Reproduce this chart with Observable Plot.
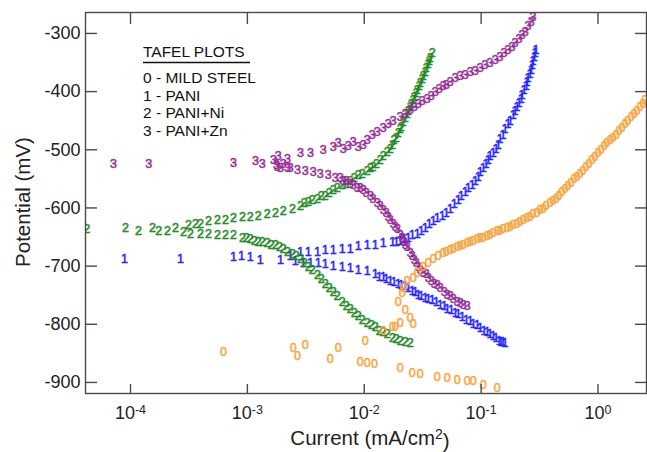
<!DOCTYPE html>
<html><head><meta charset="utf-8">
<script src="https://cdn.jsdelivr.net/npm/d3@7"></script>
<script src="https://cdn.jsdelivr.net/npm/@observablehq/plot@0.6"></script>
<style>html,body{margin:0;padding:0;background:#fff;}</style>
</head><body><div id="chart"></div>
<script>
// Tafel plots: [current (mA/cm2), potential (mV)]
const mildSteel = [
 [6.23e-4,-848],[2.47e-3,-840],[2.68e-3,-855],[3.13e-3,-835],[5.12e-3,-859],[5.99e-3,-840],[9.24e-3,-864],
 [1.02e-2,-828],[1.06e-2,-867],[1.22e-2,-869],[1.45e-2,-811],[1.74e-2,-804],[2.03e-2,-876],[2.03e-2,-797],
 [2.47e-2,-790],[2.62e-2,-799],[2.57e-2,-883],[3.01e-2,-885],[4.21e-2,-890],[5.12e-2,-893],[6.23e-2,-895],
 [7.59e-2,-897],[8.54e-2,-898],[0.104,-905],[0.137,-909],
 [2.24e-2,-776],[1.95e-2,-762],[2.11e-2,-747],[2.15e-2,-737],[2.33e-2,-725],[1.84e-2,-805],
 [2.62e-2,-720],[2.84e-2,-711],[3.19e-2,-702],[3.52e-2,-694],[3.89e-2,-687],[4.29e-2,-682],[4.73e-2,-678],
 [5.43e-2,-673],[6.23e-2,-668],[7.02e-2,-663],[8.05e-2,-659],[9.24e-2,-654],[0.104,-651],[0.119,-646],
 [0.137,-640],[0.154,-637],[0.177,-632],[0.203,-627],[0.229,-621],[0.262,-615],[0.301,-608],[0.339,-601],
 [0.389,-592],[0.438,-584],[0.492,-573],[0.554,-563],[0.623,-551],[0.702,-541],[0.790,-530],[0.889,-518],
 [1.00,-506],[1.13,-494],[1.27,-484],[1.43,-474],[1.60,-462],[1.80,-450],[2.03,-439],[2.29,-427],[2.52,-415],
 [5.02e-2,-676],[5.76e-2,-670],[6.61e-2,-665],[7.59e-2,-661],[8.54e-2,-657],[9.81e-2,-652],[0.113,-648],
 [0.127,-643],[0.145,-639],[0.167,-634],[0.188,-629],[0.215,-624],[0.247,-618],[0.278,-611],[0.319,-604],
 [0.359,-597],[0.412,-588],[0.464,-579],[0.522,-568],[0.588,-557],[0.661,-546],[0.744,-536],[0.838,-524],
 [0.943,-512],[1.06,-500],[1.19,-489],[1.34,-479],[1.51,-468],[1.70,-456],[1.92,-444],[2.15,-433],[2.43,-421]
];
const pani = [
 [8.89e-5,-687],[2.68e-4,-687],[7.59e-4,-685],[8.89e-4,-683],[1.06e-3,-685],[1.29e-3,-690],[1.92e-3,-690],[2.33e-3,-682],
 [2.84e-3,-676],[3.32e-3,-676],[3.97e-3,-675],[4.64e-3,-673],[5.43e-3,-673],[6.48e-3,-671],[7.59e-3,-670],[8.89e-3,-666],
 [1.06e-2,-664],[1.24e-2,-663],[1.45e-2,-661],[1.74e-2,-659],[2.03e-2,-656],[2.38e-2,-651],[2.84e-2,-644],[3.32e-2,-634],
 [3.89e-2,-623],[4.64e-2,-613],[5.43e-2,-601],[6.36e-2,-587],[7.30e-2,-573],[8.38e-2,-560],[9.43e-2,-546],[0.104,-532],
 [0.115,-518],[0.127,-505],[0.140,-491],[0.154,-474],[0.170,-456],[0.188,-441],[0.203,-427],[0.220,-412],[0.233,-398],
 [0.247,-384],[0.262,-369],[0.273,-355],[0.284,-341],[0.295,-329],
 [1.88e-2,-658],[2.20e-2,-654],[2.57e-2,-647],[3.07e-2,-639],[3.59e-2,-628],[4.21e-2,-618],[5.02e-2,-608],[5.88e-2,-594],
 [6.75e-2,-580],[7.74e-2,-566],[8.89e-2,-553],[9.81e-2,-539],[0.110,-525],[0.119,-511],[0.134,-498],[0.145,-482],
 [0.160,-465],[0.177,-450],[0.195,-434],[0.211,-420],[0.224,-405],[0.243,-391],[0.252,-377],[0.268,-362],[0.278,-348],[0.289,-334],
 [2.57e-3,-692],[3.01e-3,-694],[3.46e-3,-694],[4.04e-3,-695],[4.64e-3,-697],[5.43e-3,-699],[6.48e-3,-702],[7.59e-3,-704],
 [8.89e-3,-706],[1.06e-2,-709],[1.24e-2,-714],[1.45e-2,-719],[1.67e-2,-725],[1.95e-2,-730],[2.24e-2,-735],[2.57e-2,-742],
 [2.89e-2,-749],[3.32e-2,-754],[3.81e-2,-759],[4.46e-2,-766],[5.12e-2,-773],[5.99e-2,-780],[6.88e-2,-787],[8.05e-2,-795],
 [9.24e-2,-802],[0.106,-811],[0.119,-817],[0.134,-824],[0.148,-830],[0.160,-833],
 [1.34e-2,-718],[1.54e-2,-723],[1.80e-2,-728],[2.07e-2,-733],[2.38e-2,-738],[2.73e-2,-745],[3.07e-2,-752],[3.52e-2,-757],
 [4.12e-2,-762],[4.83e-2,-769],[5.54e-2,-776],[6.36e-2,-783],[7.44e-2,-792],[8.54e-2,-799],[9.81e-2,-807],[0.113,-814],
 [0.127,-821],[0.143,-828],[0.154,-831]
];
const paniNi = [
 [4.21e-5,-637],[9.06e-5,-635],[1.17e-4,-639],[1.54e-4,-635],[1.74e-4,-640],[2.07e-4,-639],[2.43e-4,-634],[2.84e-4,-642],[3.13e-4,-630],
 [3.59e-4,-628],[3.97e-4,-627],[4.64e-4,-623],[5.54e-4,-621],[6.48e-4,-620],[7.59e-4,-618],[9.06e-4,-616],[1.06e-3,-615],
 [1.24e-3,-613],[1.48e-3,-611],[1.74e-3,-608],[2.03e-3,-606],[2.43e-3,-601],[2.84e-3,-596],[3.32e-3,-589],[3.97e-3,-584],
 [4.64e-3,-579],[5.43e-3,-570],[6.48e-3,-561],[7.59e-3,-553],[8.89e-3,-544],[1.06e-2,-536],[1.19e-2,-529],[1.37e-2,-518],
 [1.57e-2,-503],[1.74e-2,-491],[1.88e-2,-479],[2.03e-2,-465],[2.15e-2,-453],[2.33e-2,-439],[2.47e-2,-427],[2.62e-2,-415],
 [2.78e-2,-403],[2.95e-2,-391],[3.13e-2,-379],[3.32e-2,-367],[3.52e-2,-353],[3.66e-2,-343],[3.81e-2,-334],
 [3.07e-3,-592],[3.59e-3,-587],[4.29e-3,-580],[5.02e-3,-575],[5.88e-3,-566],[7.02e-3,-558],[8.21e-3,-549],[9.61e-3,-541],
 [1.13e-2,-532],[1.27e-2,-524],[1.45e-2,-511],[1.67e-2,-498],[1.80e-2,-484],[1.95e-2,-472],[2.07e-2,-460],[2.24e-2,-446],
 [2.38e-2,-434],[2.52e-2,-422],[2.68e-2,-410],[2.84e-2,-398],[3.01e-2,-386],[3.19e-2,-374],[3.39e-2,-360],[3.59e-2,-348],
 [3.26e-4,-644],[3.97e-4,-644],[4.64e-4,-644],[5.54e-4,-646],[6.48e-4,-647],[7.59e-4,-647],[9.06e-4,-651],[1.06e-3,-654],
 [1.24e-3,-658],[1.48e-3,-661],[1.74e-3,-664],[2.03e-3,-671],[2.43e-3,-680],[2.84e-3,-688],[3.32e-3,-701],[3.97e-3,-716],
 [4.64e-3,-731],[5.43e-3,-745],[6.48e-3,-761],[7.59e-3,-774],[8.89e-3,-786],[1.06e-2,-797],[1.24e-2,-805],[1.45e-2,-814],
 [1.74e-2,-823],[2.03e-2,-828],[2.24e-2,-831],[2.47e-2,-833],
 [9.81e-4,-652],[1.15e-3,-656],[1.34e-3,-659],[1.60e-3,-663],[1.88e-3,-668],[2.20e-3,-675],[2.62e-3,-683],[3.07e-3,-694],
 [3.59e-3,-707],[4.29e-3,-723],[5.02e-3,-738],[5.88e-3,-752],[7.02e-3,-768],[8.21e-3,-780],[9.61e-3,-792],[1.15e-2,-802],
 [1.34e-2,-811],[1.57e-2,-817],[1.88e-2,-826]
];
const paniZn = [
 [7.15e-5,-524],[1.43e-4,-524],[7.59e-4,-522],[1.17e-3,-520],[1.34e-3,-524],[1.67e-3,-518],[1.84e-3,-510],[2.03e-3,-524],
 [2.20e-3,-515],[2.33e-3,-532],[1.92e-3,-532],[1.77e-3,-527],
 [2.84e-3,-506],[3.46e-3,-505],[4.46e-3,-501],[5.43e-3,-496],[5.99e-3,-489],[6.61e-3,-498],[7.30e-3,-493],[8.05e-3,-487],
 [8.89e-3,-496],[9.81e-3,-491],[1.17e-2,-475],[1.45e-2,-462],[1.60e-2,-455],[1.77e-2,-450],[2.03e-2,-443],[2.47e-2,-432],
 [2.89e-2,-422],[3.46e-2,-412],[4.04e-2,-401],[4.73e-2,-391],[5.43e-2,-383],[6.61e-2,-374],[8.05e-2,-367],[9.81e-2,-360],
 [0.119,-350],[0.145,-340],[0.170,-329],[0.195,-317],[0.224,-303],[0.252,-288],[0.278,-272],
 [1.06e-2,-484],[1.29e-2,-469],[2.24e-2,-438],[2.68e-2,-427],[3.13e-2,-417],[3.74e-2,-407],[4.38e-2,-396],[5.02e-2,-388],
 [5.99e-2,-377],[7.30e-2,-371],[8.89e-2,-364],[0.108,-355],[0.132,-345],[0.157,-334],[0.184,-324],[0.211,-310],[0.238,-297],[0.268,-281],
 [1.80e-3,-530],[2.20e-3,-532],[2.68e-3,-534],[3.13e-3,-536],[3.66e-3,-539],[4.21e-3,-541],[4.92e-3,-544],[5.65e-3,-548],
 [6.61e-3,-553],[7.59e-3,-558],[8.71e-3,-565],[9.81e-3,-570],[1.13e-2,-580],[1.29e-2,-592],[1.45e-2,-604],[1.60e-2,-615],
 [1.77e-2,-627],[1.92e-2,-637],[2.03e-2,-646],[2.20e-2,-658],[2.33e-2,-668],[2.47e-2,-678],[2.68e-2,-690],[2.89e-2,-701],
 [3.19e-2,-711],[3.52e-2,-720],[3.97e-2,-730],[4.46e-2,-738],[5.12e-2,-749],[5.76e-2,-757],[6.61e-2,-764],[7.59e-2,-769],
 [6.23e-3,-549],[7.02e-3,-554],[8.05e-3,-561],[9.24e-3,-566],[1.04e-2,-575],[1.19e-2,-585],[1.37e-2,-597],[1.54e-2,-609],
 [1.67e-2,-620],[1.84e-2,-632],[2.11e-2,-651],[2.24e-2,-663],[2.57e-2,-683],[2.78e-2,-695],[3.01e-2,-706],[3.39e-2,-714],
 [3.74e-2,-725],[4.21e-2,-733],[4.83e-2,-744],[5.43e-2,-752],[6.23e-2,-761],[7.02e-2,-766]
];

const seriesKeys = ["0", "1", "2", "3"];
const seriesNames = ["MILD STEEL", "PANI", "PANI+Ni", "PANI+Zn"];
const seriesColors = ["#f29a2a", "#0c0ce8", "#10700f", "#7a137a"];
const seriesFills = ["#f7aa4a", "#2a2aff", "#249224", "#a030a0"];
const seriesData = [mildSteel, pani, paniNi, paniZn];
const drawOrder = [1, 2, 3, 0];

const xTicks = [1e-4, 1e-3, 1e-2, 1e-1, 1];
const yTicks = [-900, -800, -700, -600, -500, -400, -300];
const xDomain = [4.12e-5, 2.6];
const yDomain = [-919, -264];

const rows = k => seriesData[k].map(([i, E]) => ({i, E, s: seriesKeys[k]}));

const font = "'Liberation Sans', Arial, Helvetica, sans-serif";
const axisColor = "#4a4a4a";

const chart = Plot.plot({
  width: 647, height: 452,
  marginLeft: 85, marginRight: 1, marginTop: 12, marginBottom: 59,
  x: {type: "log", domain: xDomain},
  y: {domain: yDomain},
  style: {fontFamily: font, background: "#fff", color: "#222"},
  marks: [
    ...drawOrder.map(k => Plot.text(rows(k), {
      x: "i", y: "E", text: "s", fill: seriesFills[k], stroke: seriesColors[k], strokeWidth: 0.5,
      fontSize: 12.5, clip: true
    })),
    Plot.frame({stroke: axisColor, strokeWidth: 1.4}),
    Plot.axisY(yTicks, {anchor: "left", tickSize: -12, tickPadding: 17, fontSize: 18, label: null,
      stroke: axisColor, strokeWidth: 1.4, tickFormat: d => String(d), fill: "#222"}),
    Plot.axisY(yTicks, {anchor: "right", tickSize: -12, label: null, stroke: axisColor, strokeWidth: 1.4, tickFormat: () => ""}),
    Plot.axisX(xTicks, {anchor: "bottom", tickSize: -9, tickPadding: 22, fontSize: 18, label: null,
      stroke: axisColor, strokeWidth: 1.4, fill: "#222", tickFormat: d => "10^" + Math.round(Math.log10(d))}),
    Plot.axisX(xTicks, {anchor: "top", tickSize: -11, label: null, stroke: axisColor, strokeWidth: 1.4, tickFormat: () => ""})
  ]
});

document.getElementById("chart").append(chart);
const svg = d3.select(chart);

// superscripts on x tick labels
svg.selectAll('g[aria-label="x-axis tick label"] text').each(function () {
  const t = this.textContent;
  if (!t.includes("^")) return;
  const [b, e] = t.split("^");
  this.textContent = "";
  const s = d3.select(this);
  s.append("tspan").text(b);
  s.append("tspan").attr("dy", "-0.42em").attr("font-size", "12.5px").text(e);
});

// axis titles
svg.append("text").attr("transform", "translate(30,202) rotate(-90)")
  .attr("text-anchor", "middle").attr("font-size", 20.5).attr("font-family", font).attr("fill", "#222")
  .text("Potential (mV)");
const xt = svg.append("text").attr("x", 370).attr("y", 445).attr("text-anchor", "middle")
  .attr("font-size", 20.5).attr("font-family", font).attr("fill", "#222");
xt.append("tspan").text("Current (mA/cm");
xt.append("tspan").attr("dy", "-0.45em").attr("font-size", "14px").text("2");
xt.append("tspan").attr("dy", "0.45em").text(")");

// legend
const lg = svg.append("g").attr("font-family", font).attr("font-size", 15.5).attr("fill", "#111")
  .attr("text-anchor", "start");
lg.append("text").attr("x", 143).attr("y", 57).text("TAFEL PLOTS");
lg.append("line").attr("x1", 143).attr("x2", 250).attr("y1", 62.5).attr("y2", 62.5).attr("stroke", "#111").attr("stroke-width", 1.5);
seriesKeys.forEach((k, j) => {
  lg.append("text").attr("x", 143).attr("y", 83 + j * 17.5).text(k + " - " + seriesNames[j]);
});
</script></body></html>
